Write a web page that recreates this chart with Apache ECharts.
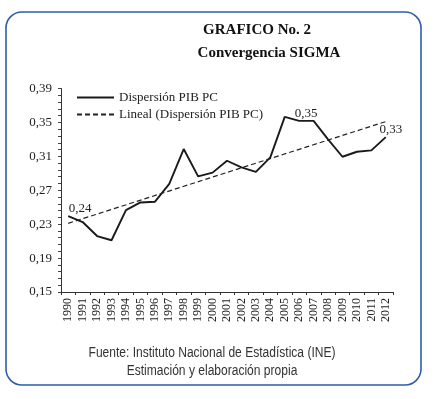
<!DOCTYPE html>
<html>
<head>
<meta charset="utf-8">
<script src="https://cdn.jsdelivr.net/npm/echarts@6/dist/echarts.min.js"></script>
<style>
  html, body { margin: 0; padding: 0; background: #fff; }
  #chart { width: 434px; height: 399px; }
</style>
</head>
<body>
<div id="chart"></div>
<script>
const years = ["1990", "1991", "1992", "1993", "1994", "1995", "1996", "1997", "1998", "1999", "2000",
  "2001", "2002", "2003", "2004", "2005", "2006", "2007", "2008", "2009", "2010", "2011", "2012"];
const dispersion = [0.2395, 0.2325, 0.216, 0.211, 0.2465, 0.2556, 0.2564, 0.2775, 0.3186, 0.2864, 0.2908,
  0.3048, 0.297, 0.2916, 0.3087, 0.3565, 0.3518, 0.3518, 0.330, 0.3095, 0.3154, 0.317, 0.3326];
// tendencia lineal: extremos
const trendYears = ["1990", "2012"];
const trendValues = [0.231, 0.351];
const labeledYears = ["1990", "2006", "2012"];
const yTicks = [0.15, 0.19, 0.23, 0.27, 0.31, 0.35, 0.39];

const serif = "Liberation Serif";
const labelOffsets = { "1990": [12, 0], "2006": [7, 0], "2012": [5, 0] };

const chart = echarts.init(document.getElementById("chart"));

const fmt = v => v.toFixed(2).replace(".", ",");

const option = {
  backgroundColor: "#fff",
  animation: false,
  legend: {
    orient: "vertical",
    left: 71,
    top: 86,
    itemWidth: 37,
    itemHeight: 14,
    itemGap: 4,
    itemStyle: { opacity: 0 },
    textStyle: { fontFamily: serif, fontSize: 13, color: "#222" },
    data: ["Dispersión PIB PC", "Lineal (Dispersión PIB PC)"]
  },
  grid: { left: 61, right: 41, top: 88.5, bottom: 107 },
  xAxis: {
    type: "category",
    data: years,
    boundaryGap: true,
    axisLine: { lineStyle: { color: "#333", width: 1 } },
    axisTick: { show: true, length: 3, lineStyle: { color: "#333" } },
    axisLabel: {
      rotate: 90,
      interval: 0,
      margin: 6,
      fontFamily: serif,
      fontSize: 12,
      color: "#222"
    }
  },
  yAxis: [
    {
      type: "value",
      min: 0.15,
      max: 0.39,
      splitLine: { show: false },
      axisLine: { show: true, lineStyle: { color: "#333", width: 1 } },
      axisTick: { show: false },
      axisLabel: {
        customValues: yTicks,
        margin: 9,
        fontFamily: serif,
        fontSize: 13,
        color: "#222",
        formatter: v => fmt(v)
      }
    },
    {
      // eje auxiliar solo para las marcas menores
      type: "value",
      position: "left",
      min: 0,
      max: 0.24,
      interval: 0.008,
      splitLine: { show: false },
      axisLine: { show: false },
      axisTick: { show: true, length: 3, lineStyle: { color: "#444" } },
      axisLabel: { show: false }
    }
  ],
  series: [
    {
      name: "Dispersión PIB PC",
      type: "line",
      symbol: "circle",
      symbolSize: 0.1,
      showSymbol: true,
      lineStyle: { color: "#1a1a1a", width: 1.9 },
      itemStyle: { color: "#1a1a1a" },
      data: dispersion.map((v, i) => {
        const y = years[i];
        if (!labeledYears.includes(y)) return v;
        return {
          value: v,
          label: {
            show: true,
            position: "top",
            distance: 1,
            offset: labelOffsets[y],
            fontFamily: serif,
            fontSize: 13,
            color: "#222",
            formatter: p => fmt(p.value)
          }
        };
      })
    },
    {
      name: "Lineal (Dispersión PIB PC)",
      type: "line",
      symbol: "none",
      lineStyle: { color: "#222", width: 1.2, type: [5, 3] },
      itemStyle: { color: "#222" },
      data: trendYears.map((y, i) => [y, trendValues[i]])
    }
  ],
  graphic: [
    {
      type: "rect",
      shape: { x: 6, y: 12, width: 415, height: 373, r: 16 },
      style: { fill: "none", stroke: "#2f5da6", lineWidth: 1.6 },
      silent: true
    },
    {
      type: "text",
      x: 257, y: 30,
      style: {
        text: "GRAFICO No. 2",
        font: "bold 15px 'Liberation Serif'",
        fill: "#111",
        textAlign: "center",
        textVerticalAlign: "middle"
      }
    },
    {
      type: "text",
      x: 269, y: 53,
      style: {
        text: "Convergencia SIGMA",
        font: "bold 15px 'Liberation Serif'",
        fill: "#111",
        textAlign: "center",
        textVerticalAlign: "middle"
      }
    },
    {
      type: "text",
      x: 212, y: 353,
      scaleX: 0.86,
      style: {
        text: "Fuente: Instituto Nacional de Estadística (INE)",
        font: "14px 'Liberation Sans'",
        fill: "#333",
        textAlign: "center",
        textVerticalAlign: "middle"
      }
    },
    {
      type: "text",
      x: 212, y: 371,
      scaleX: 0.86,
      style: {
        text: "Estimación y elaboración propia",
        font: "14px 'Liberation Sans'",
        fill: "#333",
        textAlign: "center",
        textVerticalAlign: "middle"
      }
    }
  ]
};

chart.setOption(option);
</script>
</body>
</html>
